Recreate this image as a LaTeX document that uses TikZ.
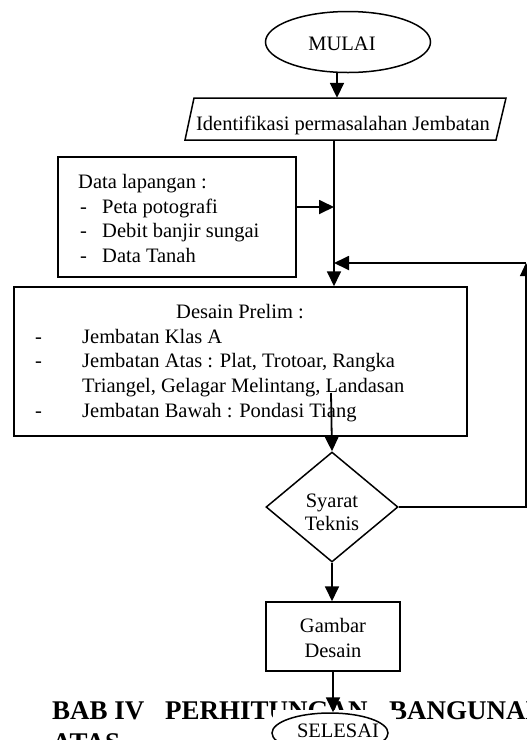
\documentclass[tikz,border=0pt]{standalone}
\usepackage{fontspec}
\setmainfont{Liberation Serif}
\usetikzlibrary{shapes.geometric,arrows.meta}
\begin{document}
\begin{tikzpicture}[x=1pt,y=-1pt,
  shp/.style={draw,line width=1.5pt,inner sep=0pt},
  txt/.style={font=\fontsize{20.5}{24.5}\selectfont,inner sep=0pt,anchor=base},
  txl/.style={txt,anchor=base west},
  head/.style={font=\fontsize{27}{31}\selectfont\bfseries,inner sep=0pt,anchor=base west},
  arr/.style={line width=1.8pt,-{Triangle[length=15pt,width=14pt]}},
  thinarr/.style={line width=1.1pt,-{Triangle[length=13pt,width=12pt]}},
]
\useasboundingbox (0,0) rectangle (527,740);
% heading behind the chart
\node[head] (bab) at (52,719) {BAB IV};
\node[head] (perh) at (165,719) {PERHITUNGAN};
\node[head] (bang) at (389,719) {BANGUNAN};
\node[head] (atas) at (52,751) {ATAS};
\fill[white] (273,710) rectangle (396,745);

% column coordinates
\coordinate (c1) at (337,0);
\coordinate (c2) at (334,0);
\coordinate (dj) at (334,207);
\coordinate (fb) at (334,263);
\coordinate (rc) at (526,263);
\coordinate (ds) at (331,393);

% MULAI
\node[shp,ellipse,minimum width=165pt,minimum height=61pt] (mulai) at (348,42) {};
\node[txt] (tmulai) at (342,50) {MULAI};

% Identifikasi (parallelogram)
\node[inner sep=0pt,minimum width=312pt,minimum height=42pt] (ident) at (345,119) {};
\draw[line width=1.5pt,line join=miter] (185,140) -- (194,98) -- (506,98) -- (496,140) -- cycle;
\node[txt] (tident) at (343,130) {Identifikasi permasalahan Jembatan};

% Data lapangan
\node[shp,minimum width=238pt,minimum height=120pt] (data) at (177,217) {};
\node[txl] (td0) at (78,188) {Data lapangan :};
\node[txl] (td1a) at (80,213) {-};
\node[txl] (td1) at (102,213) {Peta potografi};
\node[txl] (td2a) at (80,237) {-};
\node[txl] (td2) at (102,237) {Debit banjir sungai};
\node[txl] (td3a) at (80,262) {-};
\node[txl] (td3) at (102,262) {Data Tanah};

% Desain Prelim
\node[shp,minimum width=453pt,minimum height=149pt] (prelim) at (240.5,361.5) {};
\node[txt] (tp0) at (240,318) {Desain Prelim :};
\node[txl] (tp1a) at (35,343) {-};
\node[txl] (tp1) at (82,343) {Jembatan Klas A};
\node[txl] (tp2a) at (35,367) {-};
\node[txl] (tp2) at (82,367) {Jembatan Atas : Plat, Trotoar, Rangka};
\node[txl] (tp3) at (82,392) {Triangel, Gelagar Melintang, Landasan};
\node[txl] (tp4a) at (35,417) {-};
\node[txl] (tp4) at (82,417) {Jembatan Bawah : Pondasi Tiang};

% Syarat Teknis
\node[shp,diamond,minimum width=132pt,minimum height=110pt] (syarat) at (332,507) {};
\node[txt] (ts1) at (332,507) {Syarat};
\node[txt] (ts2) at (332,530) {Teknis};

% Gambar Desain
\node[shp,minimum width=134pt,minimum height=69pt] (gambar) at (333,636.5) {};
\node[txt] (tg1) at (333,632) {Gambar};
\node[txt] (tg2) at (333,657) {Desain};

% SELESAI
\node[shp,ellipse,fill=white,minimum width=116pt,minimum height=40pt] (selesai) at (330,733) {};
\node[txt] (tsel) at (338,737) {SELESAI};

% connectors
\draw[arr] (mulai.south -| c1) -- (ident.north -| c1);
\draw[arr] (ident.south -| c2) -- (prelim.north -| c2);
\draw[arr] (data.east |- dj) -- (dj);
\draw[arr] (rc) -- (fb);
\draw[thinarr] (syarat.east) -- (syarat.east -| rc) -- (rc);
\draw[arr] (ds) -- (syarat.north);
\draw[arr] (syarat.south) -- (gambar.north -| syarat.south);
\draw[arr] (gambar.south) -- (selesai.north -| gambar.south);
\end{tikzpicture}
\end{document}
